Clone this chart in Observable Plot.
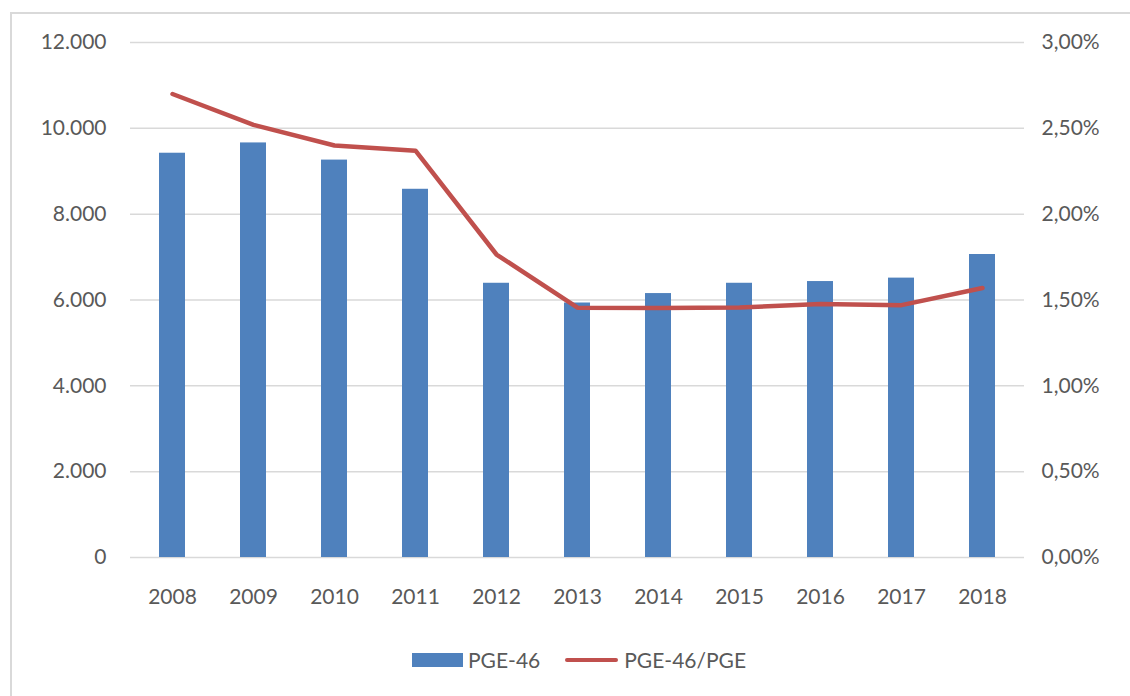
<!DOCTYPE html>
<html>
<head>
<meta charset="utf-8">
<script src="https://cdn.jsdelivr.net/npm/d3@7"></script>
<script src="https://cdn.jsdelivr.net/npm/@observablehq/plot@0.6"></script>
<style>
  html, body { margin: 0; padding: 0; background: #fff; }
  body { width: 1130px; height: 696px; position: relative; overflow: hidden; font-family: Lato, "Open Sans", sans-serif; }
  #frame { position: absolute; left: 10px; top: 12px; width: 1200px; height: 800px; border: 2px solid #d9d9d9; box-sizing: border-box; }
  #chart { position: absolute; left: 0; top: 0; }
  #legend { position: absolute; top: 647px; left: 412px; display: flex; align-items: center; font-size: 21px; color: #595959; }
  .sw-bar { width: 51px; height: 14px; background: #4F81BD; display: inline-block; margin-right: 5px; }
  .sw-line { width: 53px; height: 4px; background: #C0504D; display: inline-block; margin-left: 25px; margin-right: 6px; border-radius: 2px; }
</style>
</head>
<body>
<div id="frame"></div>
<div id="chart"></div>
<div id="legend"><span class="sw-bar"></span><span>PGE-46</span><span class="sw-line"></span><span>PGE-46/PGE</span></div>
<script>
const years = ["2008","2009","2010","2011","2012","2013","2014","2015","2016","2017","2018"];
const pge46 = [9420, 9660, 9260, 8580, 6390, 5930, 6150, 6390, 6430, 6510, 7060];
const ratioPct = [2.70, 2.52, 2.40, 2.37, 1.765, 1.455, 1.453, 1.457, 1.476, 1.470, 1.570];
const leftTicks = [0, 2000, 4000, 6000, 8000, 10000, 12000];
const rightTicks = [0, 0.5, 1.0, 1.5, 2.0, 2.5, 3.0];

const scaleFactor = 12000 / 3.0;
const data = years.map((y, i) => ({year: y, value: pge46[i], pct: ratioPct[i]}));
const loc = d3.formatLocale({decimal: ",", thousands: ".", grouping: [3], currency: ["", "€"]});
const fmtLeft = loc.format(",");

const chart = Plot.plot({
  width: 1130,
  height: 620,
  marginTop: 42,
  marginBottom: 63,
  marginLeft: 130,
  marginRight: 106,
  style: {fontFamily: "Lato, 'Open Sans', sans-serif", fontSize: "21px", color: "#595959", background: "transparent"},
  x: {domain: years, paddingInner: 0.68, paddingOuter: 0.34, label: null},
  y: {domain: [0, 12000], label: null},
  marks: [
    Plot.gridY(leftTicks, {stroke: "#d9d9d9", strokeOpacity: 1, strokeWidth: 1.5}),
    Plot.axisY(leftTicks, {anchor: "left", tickSize: 0, tickPadding: 24, tickFormat: fmtLeft, label: null, fill: "#595959"}),
    Plot.axisY(rightTicks.map(d => d * scaleFactor), {anchor: "right", tickSize: 0, tickPadding: 17, textAnchor: "start", tickFormat: d => (d / scaleFactor).toFixed(2).replace(".", ",") + "%", label: null, fill: "#595959"}),
    Plot.axisX({anchor: "bottom", tickSize: 0, tickPadding: 32, label: null, fill: "#595959"}),
    Plot.barY(data, {x: "year", y: "value", fill: "#4F81BD"}),
    Plot.line(data, {x: "year", y: d => d.pct * scaleFactor, stroke: "#C0504D", strokeWidth: 4.5, strokeLinecap: "round", strokeLinejoin: "round"})
  ]
});
document.getElementById("chart").appendChild(chart);
</script>
</body>
</html>
